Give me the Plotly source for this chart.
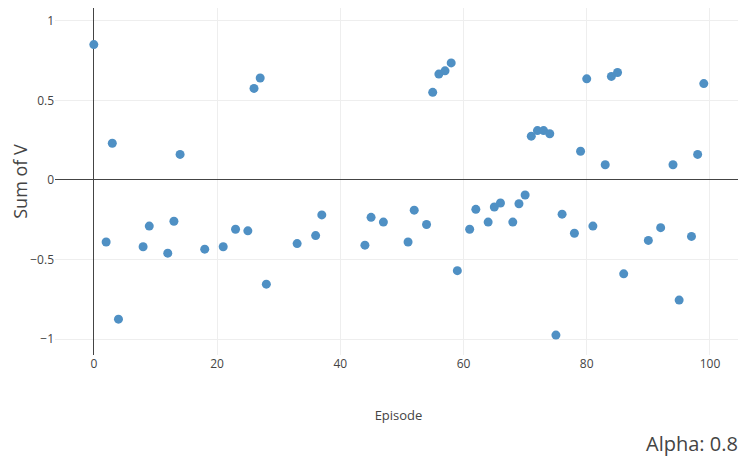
import plotly.graph_objects as go

episodes = [0, 2, 3, 4, 8, 9, 12, 13, 14, 18, 21, 23, 25, 26, 27, 28, 33, 36, 37,
            44, 45, 47, 51, 52, 54, 55, 56, 57, 58, 59, 61, 62, 64, 65, 66, 68, 69,
            70, 71, 72, 73, 74, 75, 76, 78, 79, 80, 81, 83, 84, 85, 86, 90, 92, 94,
            95, 97, 98, 99]
sum_v = [0.85, -0.39, 0.23, -0.875, -0.42, -0.29, -0.46, -0.26, 0.16, -0.435,
         -0.42, -0.31, -0.32, 0.575, 0.64, -0.655, -0.40, -0.35, -0.22,
         -0.41, -0.235, -0.265, -0.39, -0.19, -0.28, 0.55, 0.665, 0.685, 0.735,
         -0.57, -0.31, -0.185, -0.265, -0.17, -0.145, -0.265, -0.15,
         -0.095, 0.275, 0.31, 0.31, 0.29, -0.975, -0.215, -0.335, 0.18, 0.635,
         -0.29, 0.095, 0.65, 0.675, -0.59, -0.38, -0.30, 0.095,
         -0.755, -0.355, 0.16, 0.605]

x_title = "Episode"
y_title = "Sum of V"
note = "Alpha: 0.8"

fig = go.Figure(go.Scatter(
    x=episodes, y=sum_v, mode="markers",
    marker=dict(color="#4f90c4", size=9),
))

font = "Open Sans"
# the page body adds an 8px offset, so the figure is 8px smaller each way
fig.update_layout(
    width=738, height=452,
    margin=dict(l=47, r=4, t=0, b=105, autoexpand=False),
    paper_bgcolor="white", plot_bgcolor="white",
    font=dict(family=font, color="#444"),
    showlegend=False,
    xaxis=dict(range=[-6.3, 105.2], tickvals=[0, 20, 40, 60, 80, 100],
               showgrid=True, gridcolor="#eee", zeroline=True,
               zerolinecolor="#444", zerolinewidth=1, automargin=False,
               tickfont=dict(size=12),
               title=dict(text=x_title, font=dict(size=13), standoff=39)),
    yaxis=dict(range=[-1.10, 1.08], tickvals=[-1, -0.5, 0, 0.5, 1],
               ticktext=["−1", "−0.5", "0", "0.5", "1"],
               showgrid=True, gridcolor="#eee", zeroline=True,
               zerolinecolor="#444", zerolinewidth=1, automargin=False,
               tickfont=dict(size=12),
               title=dict(text=y_title, font=dict(size=18), standoff=5)),
    annotations=[dict(text=note, xref="paper", yref="paper", x=1.0, y=-0.254,
                      xanchor="right", yanchor="middle", showarrow=False,
                      xshift=-2, font=dict(size=20, color="#444"))],
)

fig.write_html("out.html")
